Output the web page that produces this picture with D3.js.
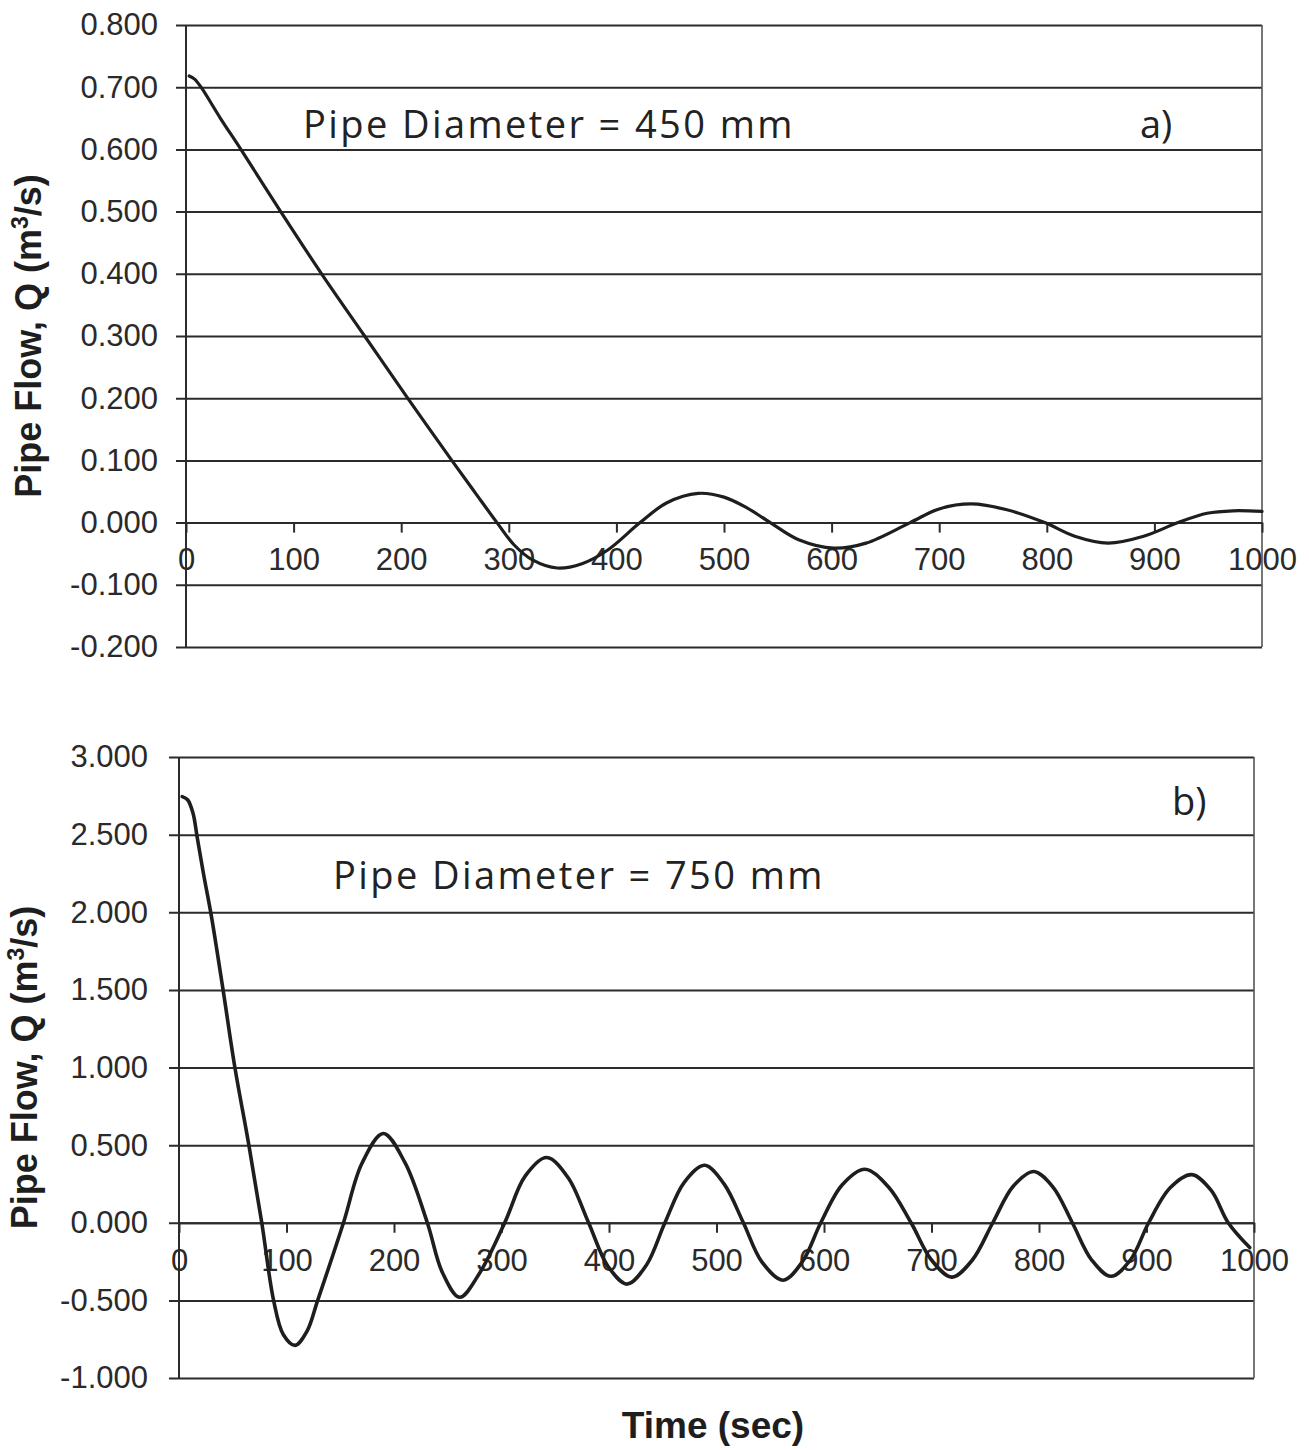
<!DOCTYPE html>
<html>
<head>
<meta charset="utf-8">
<script src="https://cdn.jsdelivr.net/npm/d3@7"></script>
<style>
  html, body { margin: 0; padding: 0; background: #fff; }
  svg { display: block; }
</style>
</head>
<body>
<svg id="chart" width="1309" height="1450"></svg>
<script>
// ---------------- DATA ----------------
const timeTicks = [0, 100, 200, 300, 400, 500, 600, 700, 800, 900, 1000];
const flowTicksA = [-0.2, -0.1, 0, 0.1, 0.2, 0.3, 0.4, 0.5, 0.6, 0.7, 0.8];
const flowTicksB = [-1, -0.5, 0, 0.5, 1, 1.5, 2, 2.5, 3];

// Panel a) Pipe Diameter = 450 mm : [time (s), flow (m3/s)]
const flow450 = [
  [3, 0.718], [8, 0.713], [14, 0.700], [32, 0.650], [51, 0.600],
  [88, 0.500], [126, 0.400], [166, 0.300], [206, 0.200],
  [247, 0.100], [270, 0.045], [289, 0.000], [305, -0.036], [322, -0.060],
  [345, -0.073], [368, -0.066], [392, -0.044], [422, 0.000], [447, 0.032],
  [476, 0.047], [500, 0.041], [521, 0.024], [543, 0.000], [570, -0.028],
  [602, -0.041], [632, -0.033], [673, 0.000], [700, 0.022], [730, 0.030],
  [762, 0.021], [798, 0.000], [826, -0.022], [857, -0.033], [890, -0.022],
  [922, 0.000], [949, 0.015], [973, 0.019], [1000, 0.018]
];

// Panel b) Pipe Diameter = 750 mm : [time (s), flow (m3/s)]
const flow750 = [
  [3, 2.745], [8, 2.725], [13, 2.640], [17, 2.480], [23, 2.240], [30, 1.980],
  [41, 1.500], [52, 1.000], [65, 0.500], [77, 0.000], [88, -0.500],
  [97, -0.720], [108, -0.790], [119, -0.700], [129, -0.500], [153, 0.000],
  [170, 0.380], [190, 0.575], [210, 0.390], [231, 0.000], [245, -0.320],
  [261, -0.480], [280, -0.320], [303, 0.000], [322, 0.300], [342, 0.420],
  [362, 0.290], [381, 0.000], [399, -0.280], [417, -0.395], [435, -0.270],
  [452, 0.000], [470, 0.260], [489, 0.370], [507, 0.250], [525, 0.000],
  [542, -0.250], [562, -0.370], [580, -0.250], [597, 0.000], [617, 0.245],
  [638, 0.345], [660, 0.230], [681, 0.000], [700, -0.240], [719, -0.350],
  [738, -0.240], [757, 0.000], [776, 0.235], [795, 0.330], [813, 0.230],
  [831, 0.000], [849, -0.240], [867, -0.345], [885, -0.240], [902, 0.000],
  [922, 0.225], [942, 0.310], [960, 0.210], [976, 0.000], [996, -0.160]
];

const yTitle = "Pipe Flow, Q (m";
const xTitle = "Time (sec)";
const labelA = "Pipe Diameter = 450 mm";
const labelB = "Pipe Diameter = 750 mm";

// ---------------- DRAW ----------------
const svg = d3.select("#chart");
const fmt = v => (Math.abs(v) < 1e-9 ? 0 : v).toFixed(3);

function panel(cfg) {
  const g = svg.append("g");
  const x = d3.scaleLinear().domain([0, 1000]).range([cfg.x0, cfg.x1]);
  const y = d3.scaleLinear().domain(cfg.yDomain).range([cfg.yb, cfg.yt]);
  const w = cfg.x1 - cfg.x0;

  // horizontal gridlines + y tick labels
  const ya = g.append("g")
    .attr("transform", `translate(${cfg.x0},0)`)
    .call(d3.axisLeft(y).tickValues(cfg.yTicks).tickFormat(fmt)
      .tickSizeInner(-w).tickSizeOuter(0).tickPadding(cfg.yPad));
  ya.select(".domain").remove();
  ya.selectAll(".tick line").attr("x1", -10).attr("x2", w)
    .attr("stroke", "#2b2b2b").attr("stroke-width", 2);
  ya.selectAll(".tick text")
    .attr("font-family", "Liberation Sans, Arial, sans-serif")
    .attr("font-size", 31).attr("fill", "#2a2a2a");

  // right border
  g.append("line").attr("x1", cfg.x1).attr("x2", cfg.x1)
    .attr("y1", cfg.yt).attr("y2", cfg.yb)
    .attr("stroke", "#555").attr("stroke-width", 1.6);

  // left axis line
  g.append("line").attr("x1", cfg.x0).attr("x2", cfg.x0)
    .attr("y1", cfg.yt).attr("y2", cfg.yb)
    .attr("stroke", "#2b2b2b").attr("stroke-width", 2);

  // x axis at zero
  const xa = g.append("g")
    .attr("transform", `translate(0,${y(0)})`)
    .call(d3.axisBottom(x).tickValues(timeTicks).tickFormat(d3.format("d"))
      .tickSizeInner(10).tickSizeOuter(0));
  xa.select(".domain").attr("stroke", "#2b2b2b").attr("stroke-width", 2);
  xa.selectAll(".tick line").attr("stroke", "#2b2b2b").attr("stroke-width", 2);
  xa.selectAll(".tick text")
    .attr("y", 37).attr("dy", "0.35em")
    .attr("font-family", "Liberation Sans, Arial, sans-serif")
    .attr("font-size", 31).attr("fill", "#2a2a2a");

  // curve
  const line = d3.line().x(d => x(d[0])).y(d => y(d[1])).curve(d3.curveCatmullRom.alpha(0.5));
  g.append("path").datum(cfg.data)
    .attr("d", line).attr("fill", "none")
    .attr("stroke", "#1e1e1e").attr("stroke-width", cfg.lw)
    .attr("stroke-linejoin", "round").attr("stroke-linecap", "round");

  // y title
  const cy = (cfg.yt + cfg.yb) / 2;
  const t = g.append("text")
    .attr("transform", `translate(${cfg.titleX},${cy}) rotate(-90)`)
    .attr("text-anchor", "middle")
    .attr("font-family", "Liberation Sans, Arial, sans-serif")
    .attr("font-weight", "bold").attr("font-size", 36).attr("fill", "#1e1e1e");
  t.append("tspan").text(yTitle);
  t.append("tspan").attr("dy", -13).attr("font-size", 23).text("3");
  t.append("tspan").attr("dy", 13).text("/s)");

  // annotations
  g.append("text").attr("x", cfg.labX).attr("y", cfg.labY)
    .attr("dy", "0.35em")
    .attr("font-family", "Open Sans, sans-serif")
    .attr("font-size", 38).attr("letter-spacing", 2.4).attr("fill", "#222")
    .text(cfg.label);
  g.append("text").attr("x", cfg.tagX).attr("y", cfg.tagY)
    .attr("dy", "0.35em")
    .attr("font-family", "Open Sans, sans-serif")
    .attr("font-size", 38).attr("fill", "#222")
    .text(cfg.tag);
}

panel({
  x0: 186, x1: 1262, yt: 25, yb: 647, yDomain: [-0.2, 0.8], yTicks: flowTicksA,
  yPad: 28, data: flow450, lw: 3.2, titleX: 41,
  label: labelA, labX: 303, labY: 125, tag: "a)", tagX: 1140, tagY: 125
});

panel({
  x0: 179, x1: 1254, yt: 757, yb: 1378, yDomain: [-1, 3], yTicks: flowTicksB,
  yPad: 31, data: flow750, lw: 3.6, titleX: 37,
  label: labelB, labX: 333, labY: 876, tag: "b)", tagX: 1172, tagY: 802
});

svg.append("text").attr("x", 713).attr("y", 1425).attr("dy", "0.35em")
  .attr("text-anchor", "middle")
  .attr("font-family", "Liberation Sans, Arial, sans-serif")
  .attr("font-weight", "bold").attr("font-size", 37).attr("fill", "#1e1e1e")
  .text(xTitle);
</script>
</body>
</html>
